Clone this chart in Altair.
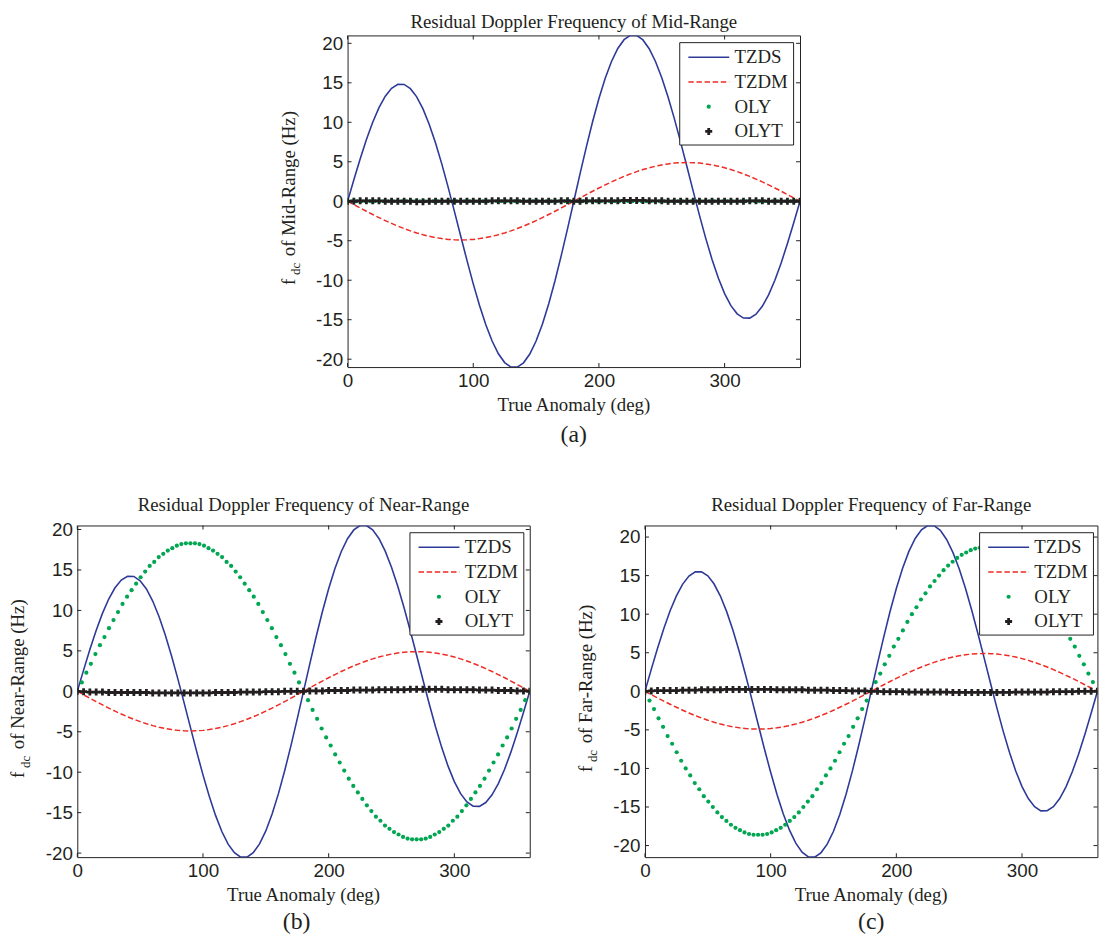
import altair as alt
import pandas as pd

# ---------------- data ----------------
deg = list(range(0, 361, 5))                      # x grid of the line series
oly_deg = [round(i * 3.6, 1) for i in range(101)]  # x of the OLY dots
x_ticks = [0, 100, 200, 300]
y_ticks = [-20, -15, -10, -5, 0, 5, 10, 15, 20]
legend_labels = ["TZDS", "TZDM", "OLY", "OLYT"]

tzds_mid = [0, 2.72, 5.36, 7.81, 10.00, 11.85, 13.30, 14.30, 14.80, 14.79,
            14.26, 13.22, 11.69, 9.72, 7.37, 4.70, 1.79, -1.28, -4.40,
            -7.49, -10.46, -13.20, -15.64, -17.70, -19.31, -20.43, -21.00, -21.01,
            -20.46, -19.35, -17.70, -15.57, -13.01, -10.09, -6.89, -3.49, 0,
            3.49, 6.89, 10.09, 13.01, 15.57, 17.70, 19.35, 20.46, 21.01,
            21.00, 20.43, 19.31, 17.70, 15.64, 13.20, 10.46, 7.49, 4.40,
            1.28, -1.79, -4.70, -7.37, -9.72, -11.69, -13.22, -14.26, -14.79,
            -14.80, -14.30, -13.30, -11.85, -10.00, -7.81, -5.36, -2.72, 0]

tzds_near = [0, 2.62, 5.16, 7.52, 9.63, 11.41, 12.80, 13.75, 14.22, 14.20,
             13.67, 12.65, 11.16, 9.25, 6.96, 4.37, 1.54, -1.43, -4.46,
             -7.46, -10.33, -12.98, -15.34, -17.33, -18.89, -19.96, -20.50, -20.50,
             -19.95, -18.86, -17.26, -15.18, -12.68, -9.83, -6.71, -3.40, 0,
             3.40, 6.71, 9.83, 12.68, 15.18, 17.26, 18.86, 19.95, 20.50,
             20.50, 19.96, 18.89, 17.33, 15.34, 12.98, 10.33, 7.46, 4.46,
             1.43, -1.54, -4.37, -6.96, -9.25, -11.16, -12.65, -13.67, -14.20,
             -14.22, -13.75, -12.80, -11.41, -9.63, -7.52, -5.16, -2.62, 0]

tzds_far = [0, 2.84, 5.59, 8.15, 10.44, 12.38, 13.90, 14.95, 15.49, 15.50,
            14.97, 13.91, 12.35, 10.33, 7.91, 5.16, 2.15, -1.01, -4.24,
            -7.44, -10.50, -13.35, -15.88, -18.01, -19.69, -20.86, -21.47, -21.50,
            -20.94, -19.82, -18.14, -15.96, -13.34, -10.35, -7.06, -3.58, 0,
            3.58, 7.06, 10.35, 13.34, 15.96, 18.14, 19.82, 20.94, 21.50,
            21.47, 20.86, 19.69, 18.01, 15.88, 13.35, 10.50, 7.44, 4.24,
            1.01, -2.15, -5.16, -7.91, -10.33, -12.35, -13.91, -14.97, -15.50,
            -15.49, -14.95, -13.90, -12.38, -10.44, -8.15, -5.59, -2.84, 0]

tzdm = [0, -0.43, -0.85, -1.27, -1.68, -2.07, -2.45, -2.81, -3.15, -3.46,
        -3.75, -4.01, -4.24, -4.44, -4.60, -4.73, -4.83, -4.88, -4.90,
        -4.88, -4.83, -4.73, -4.60, -4.44, -4.24, -4.01, -3.75, -3.46,
        -3.15, -2.81, -2.45, -2.07, -1.68, -1.27, -0.85, -0.43, 0,
        0.43, 0.85, 1.27, 1.68, 2.07, 2.45, 2.81, 3.15, 3.46,
        3.75, 4.01, 4.24, 4.44, 4.60, 4.73, 4.83, 4.88, 4.90,
        4.88, 4.83, 4.73, 4.60, 4.44, 4.24, 4.01, 3.75, 3.46,
        3.15, 2.81, 2.45, 2.07, 1.68, 1.27, 0.85, 0.43, 0]

oly_mid = [0.0] * 101  # hidden under OLYT in panel (a)

oly_near = [0, 1.1, 2.3, 3.4, 4.6, 5.7, 6.7, 7.8, 8.8, 9.8, 10.8, 11.7, 12.5, 13.3,
            14.1, 14.8, 15.5, 16.0, 16.6, 17.0, 17.4, 17.7, 18.0, 18.2, 18.3, 18.3,
            18.3, 18.2, 18.0, 17.7, 17.4, 17.0, 16.6, 16.0, 15.5, 14.8, 14.1, 13.3,
            12.5, 11.7, 10.8, 9.8, 8.8, 7.8, 6.7, 5.7, 4.6, 3.4, 2.3, 1.1, 0,
            -1.1, -2.3, -3.4, -4.6, -5.7, -6.7, -7.8, -8.8, -9.8, -10.8, -11.7, -12.5,
            -13.3, -14.1, -14.8, -15.5, -16.0, -16.6, -17.0, -17.4, -17.7, -18.0, -18.2,
            -18.3, -18.3,
            -18.3, -18.2, -18.0, -17.7, -17.4, -17.0, -16.6, -16.0, -15.5, -14.8, -14.1,
            -13.3, -12.5, -11.7, -10.8, -9.8, -8.8, -7.8, -6.7, -5.7, -4.6, -3.4, -2.3,
            -1.1, 0]

oly_far = [0, -1.2, -2.3, -3.5, -4.6, -5.8, -6.8, -7.9, -9.0, -10.0, -10.9, -11.9, -12.7,
           -13.6, -14.3, -15.0, -15.7, -16.3, -16.8, -17.3, -17.7, -18.0, -18.3, -18.5,
           -18.6, -18.6,
           -18.6, -18.5, -18.3, -18.0, -17.7, -17.3, -16.8, -16.3, -15.7, -15.0, -14.3,
           -13.6, -12.7, -11.9, -10.9, -10.0, -9.0, -7.9, -6.8, -5.8, -4.6, -3.5, -2.3,
           -1.2, 0,
           1.2, 2.3, 3.5, 4.6, 5.8, 6.8, 7.9, 9.0, 10.0, 10.9, 11.9, 12.7, 13.6, 14.3,
           15.0, 15.7, 16.3, 16.8, 17.3, 17.7, 18.0, 18.3, 18.5, 18.6, 18.6,
           18.6, 18.5, 18.3, 18.0, 17.7, 17.3, 16.8, 16.3, 15.7, 15.0, 14.3, 13.6, 12.7,
           11.9, 10.9, 10.0, 9.0, 7.9, 6.8, 5.8, 4.6, 3.5, 2.3, 1.2, 0]

olyt_mid = [0.0, 0.0, 0.05, 0.05, 0.05, 0.05, 0.0, 0.0, 0.0, 0.0,
            0.0, -0.05, -0.05, 0.0, 0.0, 0.0, 0.0, 0.0, 0.0, 0.0,
            0.0, 0.0, 0.0, 0.05, 0.05, 0.05, 0.05, 0.05, 0.0, 0.0,
            0.0, 0.0, 0.0, 0.0, 0.05, 0.05, 0.0,
            0.0, 0.05, 0.05, 0.05, 0.05, 0.05, 0.05, 0.1, 0.1, 0.1,
            0.1, 0.05, 0.05, 0.05, 0.0, 0.0, 0.0, 0.0, 0.0, 0.0,
            0.0, 0.0, 0.0, 0.0, 0.0, 0.0, 0.0, 0.05, 0.05, 0.05,
            0.0, 0.0, 0.0, 0.0, 0.0, 0.0]

olyt_near = [0, -0.05, -0.1, -0.1, -0.1, -0.15, -0.15, -0.15, -0.15, -0.15,
             -0.15, -0.15, -0.2, -0.2, -0.2, -0.2, -0.2, -0.2, -0.2, -0.2,
             -0.2, -0.2, -0.15, -0.15, -0.15, -0.15, -0.1, -0.1, -0.1, -0.1,
             -0.05, -0.05, -0.05, 0.0, 0.0, 0.0, 0.0,
             0.05, 0.05, 0.05, 0.1, 0.1, 0.1, 0.1, 0.15, 0.15, 0.15,
             0.15, 0.2, 0.2, 0.2, 0.2, 0.2, 0.25, 0.25, 0.25, 0.25,
             0.25, 0.25, 0.2, 0.2, 0.2, 0.2, 0.2, 0.15, 0.15, 0.15,
             0.1, 0.1, 0.1, 0.05, 0.05, 0.0]

olyt_far = [0, 0.05, 0.1, 0.1, 0.1, 0.1, 0.15, 0.15, 0.15, 0.2,
            0.2, 0.2, 0.2, 0.25, 0.25, 0.25, 0.25, 0.25, 0.25, 0.25,
            0.25, 0.2, 0.2, 0.2, 0.2, 0.2, 0.15, 0.15, 0.15, 0.15,
            0.1, 0.1, 0.1, 0.05, 0.05, 0.05, 0.0,
            0.0, -0.05, -0.05, -0.05, -0.05, -0.1, -0.1, -0.1, -0.1, -0.1,
            -0.1, -0.1, -0.15, -0.15, -0.15, -0.15, -0.15, -0.15, -0.15, -0.15,
            -0.15, -0.15, -0.1, -0.1, -0.1, -0.1, -0.1, -0.1, -0.05, -0.05,
            -0.05, -0.05, 0.0, 0.0, 0.0, 0.0]

# ---------------- styling ----------------
W, H = 457, 335
BLUE = "#2E3A97"
RED = "#EE2B24"
GREEN = "#00A651"
INK = "#231F20"
SERIF = "Liberation Serif"
SANS = "Liberation Sans"
DASH = [5.5, 2.7]
EXT_L = -69          # left extent reserved for the y title of every panel
SPACER_W = 202.3     # shifts panel (a) to the right of panel (b)
STAR_SIZE = 50


def one(value):
    return alt.Chart(pd.DataFrame({"t": [value]}))


def label(text, x, y, size, **kw):
    return one(text).mark_text(font=SERIF, fontSize=size, color=INK, **kw).encode(
        x=alt.value(x), y=alt.value(y), text="t:N")


def panel(tzds, oly, olyt, ymax, title, title_y, yrest, y0, caption, cap_dx, cap_y,
          ext_top, ext_bot, leg_inset):
    xs = alt.Scale(domain=[0, 360], nice=False, zero=False)
    ys = alt.Scale(domain=[-ymax, ymax], nice=False, zero=False)
    common = dict(title=None, ticks=False, domain=False, grid=False, labelFont=SANS,
                  labelFontSize=19, labelColor=INK, labelPadding=5, labelFlush=False,
                  labelExpr="toString(datum.value)")
    xax = alt.Axis(values=x_ticks, **common)
    yax = alt.Axis(values=y_ticks, **common)

    def X(f):
        return alt.X(f, type="quantitative", scale=xs, axis=xax)

    def Y(f):
        return alt.Y(f, type="quantitative", scale=ys, axis=yax)

    lines = pd.DataFrame({"deg": deg, "TZDS": tzds, "TZDM": tzdm, "OLYT": olyt})
    dots = pd.DataFrame({"deg": oly_deg, "OLY": oly})

    ext = one(0).mark_rect(opacity=0).encode(
        x=alt.value(EXT_L), x2=alt.value(W + 0.6), y=alt.value(ext_top), y2=alt.value(H + ext_bot))

    l_tzds = alt.Chart(lines).mark_line(color=BLUE, strokeWidth=1.6, clip=True).encode(
        x=X("deg"), y=Y("TZDS"))
    l_tzdm = alt.Chart(lines).mark_line(color=RED, strokeWidth=1.5, strokeDash=DASH, clip=True).encode(
        x=X("deg"), y=Y("TZDM"))
    p_oly = alt.Chart(dots).mark_point(shape="circle", filled=True, size=18, color=GREEN,
                                       opacity=1, clip=True).encode(x=X("deg"), y=Y("OLY"))
    p_olyt = alt.Chart(lines).mark_point(shape="cross", filled=True, size=STAR_SIZE, color=INK,
                                         opacity=1, clip=True).encode(x=X("deg"), y=Y("OLYT"))

    tx = alt.Chart(pd.DataFrame({"v": x_ticks}))
    ty = alt.Chart(pd.DataFrame({"v": y_ticks}))
    tick_kw = dict(size=4, thickness=1, color=INK, opacity=1)
    t_top = tx.mark_tick(orient="vertical", **tick_kw).encode(x=X("v"), y=alt.value(2))
    t_bot = tx.mark_tick(orient="vertical", **tick_kw).encode(x=X("v"), y=alt.value(H - 2))
    t_lef = ty.mark_tick(orient="horizontal", **tick_kw).encode(y=Y("v"), x=alt.value(2))
    t_rig = ty.mark_tick(orient="horizontal", **tick_kw).encode(y=Y("v"), x=alt.value(W - 2))

    L = W - leg_inset - 115
    box = one(0).mark_rect(fill="white", stroke=INK, strokeWidth=1).encode(
        x=alt.value(L), x2=alt.value(W - leg_inset), y=alt.value(7.3), y2=alt.value(110.7))
    g1 = one(0).mark_rule(color=BLUE, strokeWidth=1.6).encode(
        x=alt.value(L + 8.7), x2=alt.value(L + 50), y=alt.value(22))
    g2 = one(0).mark_rule(color=RED, strokeWidth=1.5, strokeDash=DASH).encode(
        x=alt.value(L + 8.7), x2=alt.value(L + 50), y=alt.value(47))
    g3 = one(0).mark_point(shape="circle", filled=True, size=18, color=GREEN, opacity=1).encode(
        x=alt.value(L + 29.3), y=alt.value(72))
    g4 = one(0).mark_point(shape="cross", filled=True, size=STAR_SIZE, color=INK, opacity=1).encode(
        x=alt.value(L + 29.3), y=alt.value(97))
    g_txt = [label(lab, L + 55.3, 22 + 25 * i, 19, align="left", baseline="middle")
             for i, lab in enumerate(legend_labels)]

    t_title = label(title, W / 2, title_y, 19, align="center", baseline="alphabetic")
    t_xt = label("True Anomaly (deg)", W / 2, H + 44.5, 19, align="center", baseline="alphabetic")
    t_cap = label(caption, W / 2 + cap_dx, H + cap_y, 24, align="center", baseline="alphabetic")
    yt1 = label("f", -53.5, y0, 19, angle=270, align="left", baseline="alphabetic")
    yt2 = label("dc", -48, y0 - 10, 13, angle=270, align="left", baseline="alphabetic")
    yt3 = label(yrest, -53.5, y0 - 29, 19, angle=270, align="left", baseline="alphabetic")

    return alt.layer(ext, l_tzds, l_tzdm, p_oly, p_olyt, t_top, t_bot, t_lef, t_rig,
                     box, g1, g2, g3, g4, *g_txt, t_title, t_xt, t_cap, yt1, yt2, yt3
                     ).properties(width=W, height=H)


chart_a = panel(tzds_mid, oly_mid, olyt_mid, 21.0, "Residual Doppler Frequency of Mid-Range", -7,
                "of Mid-Range (Hz)", 252, "(a)", 0, 76, -22, 88, 6.5)
chart_b = panel(tzds_near, oly_near, olyt_near, 20.5, "Residual Doppler Frequency of Near-Range", -15,
                "of Near-Range (Hz)", 255, "(b)", -7, 73, -34, 78, 6)
chart_c = panel(tzds_far, oly_far, olyt_far, 21.5, "Residual Doppler Frequency of Far-Range", -15,
                "of Far-Range (Hz)", 249, "(c)", 0, 73, -34, 78, 4)

# invisible spacer that shifts panel (a) to the right
spacer = one(0).mark_rect(opacity=0).encode(
    x=alt.value(0), x2=alt.value(SPACER_W), y=alt.value(0), y2=alt.value(1)
).properties(width=SPACER_W, height=1, view=alt.ViewBackground(stroke="transparent"))

chart = alt.vconcat(
    alt.hconcat(spacer, chart_a, spacing=0),
    alt.hconcat(chart_b, chart_c, spacing=44.4),
    spacing=36,
).properties(
    padding={"left": 0, "top": 0, "right": 0, "bottom": 0}
).configure_view(stroke=INK, strokeWidth=1)

chart.save("out.html", embed_options={"renderer": "svg", "actions": False})
